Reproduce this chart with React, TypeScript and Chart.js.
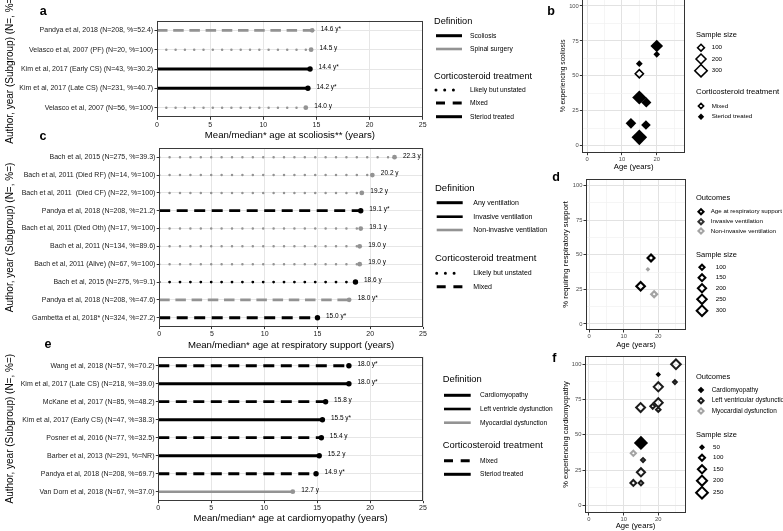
import React, { useEffect, useRef } from "react";
import { Chart, registerables } from "chart.js";

Chart.register(...registerables);

const FONT = "'Liberation Sans', Arial, Helvetica, sans-serif";

// ================= DATA =================
// (a) Mean/median age at scoliosis
const scolLabels = [
  "Pandya et al, 2018 (N=208, %=52.4)",
  "Velasco et al, 2007 (PF) (N=20, %=100)",
  "Kim et al, 2017 (Early CS) (N=43, %=30.2)",
  "Kim et al, 2017 (Late CS) (N=231, %=40.7)",
  "Velasco et al, 2007 (N=56, %=100)",
];
const scolAge = [14.6, 14.5, 14.4, 14.2, 14.0];
const scolMedian = [true, false, true, true, false];
const scolDefinition = ["Spinal surgery", "Spinal surgery", "Scoliosis", "Scoliosis", "Spinal surgery"];
const scolTreatment = ["Mixed", "Likely but unstated", "Steriod treated", "Steriod treated", "Likely but unstated"];

// (b) % experiencing scoliosis vs age
const scolPtAge = [15, 20, 20, 15, 15, 17, 12.6, 16.9, 15];
const scolPtPct = [58.7, 71.4, 65.4, 51.5, 34.5, 31.0, 16.0, 14.8, 6.0];
const scolPtN = [71, 258, 67, 140, 330, 166, 180, 147, 400];
const scolPtTreatment = [
  "Steriod treated", "Steriod treated", "Steriod treated", "Mixed", "Steriod treated",
  "Steriod treated", "Steriod treated", "Steriod treated", "Steriod treated",
];
const scolSizeLegend = [100, 200, 300];

// (c) Mean/median age at respiratory support
const respLabels = [
  "Bach et al, 2015 (N=275, %=39.3)",
  "Bach et al, 2011 (Died RF) (N=14, %=100)",
  "Bach et al, 2011  (Died CF) (N=22, %=100)",
  "Pandya et al, 2018 (N=208, %=21.2)",
  "Bach et al, 2011 (Died Oth) (N=17, %=100)",
  "Bach et al, 2011 (N=134, %=89.6)",
  "Bach et al, 2011 (Alive) (N=67, %=100)",
  "Bach et al, 2015 (N=275, %=9.1)",
  "Pandya et al, 2018 (N=208, %=47.6)",
  "Gambetta et al, 2018* (N=324, %=27.2)",
];
const respAge = [22.3, 20.2, 19.2, 19.1, 19.1, 19.0, 19.0, 18.6, 18.0, 15.0];
const respMedian = [false, false, false, true, false, false, false, false, true, true];
const respDefinition = [
  "Non-invasive ventilation", "Non-invasive ventilation", "Non-invasive ventilation", "Invasive ventilation",
  "Non-invasive ventilation", "Non-invasive ventilation", "Non-invasive ventilation", "Invasive ventilation",
  "Non-invasive ventilation", "Any ventilation",
];
const respTreatment = [
  "Likely but unstated", "Likely but unstated", "Likely but unstated", "Mixed", "Likely but unstated",
  "Likely but unstated", "Likely but unstated", "Likely but unstated", "Mixed", "Mixed",
];

// (d) % requiring respiratory support vs age
const respPtAge = [17.9, 17.0, 14.9, 18.8];
const respPtPct = [47.7, 39.5, 27.2, 21.5];
const respPtN = [150, 25, 208, 119];
const respPtOutcome = ["Age at respiratory support", "Non-invasive ventilation", "Age at respiratory support", "Non-invasive ventilation"];
const respOutcomes = ["Age at respiratory support", "Invasive ventilation", "Non-invasive ventilation"];
const respSizeLegend = [100, 150, 200, 250, 300];

// (e) Mean/median age at cardiomyopathy
const cardLabels = [
  "Wang et al, 2018 (N=57, %=70.2)",
  "Kim et al, 2017 (Late CS) (N=218, %=39.0)",
  "McKane et al, 2017 (N=85, %=48.2)",
  "Kim et al, 2017 (Early CS) (N=47, %=38.3)",
  "Posner et al, 2016 (N=77, %=32.5)",
  "Barber et al, 2013 (N=291, %=NR)",
  "Pandya et al, 2018 (N=208, %=69.7)",
  "Van Dorn et al, 2018 (N=67, %=37.0)",
];
const cardAge = [18.0, 18.0, 15.8, 15.5, 15.4, 15.2, 14.9, 12.7];
const cardMedian = [true, true, false, true, false, false, true, false];
const cardDefinition = [
  "Cardiomyopathy", "Cardiomyopathy", "Left ventricle dysfunction", "Cardiomyopathy",
  "Left ventricle dysfunction", "Cardiomyopathy", "Cardiomyopathy", "Myocardial dysfunction",
];
const cardTreatment = ["Mixed", "Steriod treated", "Mixed", "Steriod treated", "Mixed", "Steriod treated", "Mixed", "Steriod treated"];

// (f) % experiencing cardiomyopathy vs age
const cardPtAge = [25.1, 20, 24.8, 20, 14.9, 18.4, 20, 20, 15, 12.8, 15.6, 15, 12.8, 15];
const cardPtPct = [100, 92.8, 87.4, 84, 69.3, 70.2, 72.8, 67.8, 44.2, 36.9, 32.1, 23.4, 15.8, 15.8];
const cardPtN = [185, 72, 59, 174, 166, 76, 166, 71, 306, 83, 61, 148, 97, 71];
const cardPtOutcome = [
  "Left ventricular dysfunction", "Cardiomyopathy", "Left ventricular dysfunction", "Left ventricular dysfunction",
  "Left ventricular dysfunction", "Left ventricular dysfunction", "Left ventricular dysfunction", "Left ventricular dysfunction",
  "Cardiomyopathy", "Myocardial dysfunction", "Left ventricular dysfunction", "Left ventricular dysfunction",
  "Left ventricular dysfunction", "Left ventricular dysfunction",
];
const cardOutcomes = ["Cardiomyopathy", "Left ventricular dysfunction", "Myocardial dysfunction"];
const cardSizeLegend = [50, 100, 150, 200, 250];

const X_TICKS_LOLLI = [0, 5, 10, 15, 20, 25];
const X_TICKS_SCAT = [0, 5, 10, 15, 20, 25];
const Y_TICKS_SCAT = [0, 12.5, 25, 37.5, 50, 62.5, 75, 87.5, 100];

// ================= STYLE =================
const GRAY = "#939393";
const DEF_STYLE: Record<string, { color: string; width: number }> = {
  Scoliosis: { color: "#000", width: 3 },
  "Spinal surgery": { color: GRAY, width: 2.6 },
  "Any ventilation": { color: "#000", width: 3 },
  "Invasive ventilation": { color: "#000", width: 2.8 },
  "Non-invasive ventilation": { color: GRAY, width: 2.6 },
  Cardiomyopathy: { color: "#000", width: 3 },
  "Left ventricle dysfunction": { color: "#000", width: 2.8 },
  "Myocardial dysfunction": { color: GRAY, width: 2.6 },
};
const OUTCOME_COLOR: Record<string, string> = {
  "Age at respiratory support": "#000",
  "Invasive ventilation": "#333",
  "Non-invasive ventilation": "#a3a3a3",
  Cardiomyopathy: "#000",
  "Left ventricular dysfunction": "#1c1c1c",
  "Myocardial dysfunction": "#a3a3a3",
};
const sizeB = (n: number) => Math.max(0.8, 0.38 * Math.sqrt(n) - 0.4);
const sizeD = (n: number) => Math.max(0.8, 0.37 * Math.sqrt(n) - 1.1);
const sizeF = (n: number) => Math.max(0.8, 0.49 * Math.sqrt(n) - 1.87);

type Box = { x: number; y: number; w: number; h: number };
type Area = { l: number; t: number; r: number; b: number };

function frame(box: Box, area: Area, xAxisH: number) {
  return {
    padding: {
      left: 0,
      top: area.t - box.y,
      right: box.x + box.w - area.r,
      bottom: Math.max(0, box.y + box.h - area.b - xAxisH),
    },
    yWidth: area.l - box.x,
  };
}

function txt(ctx: any, s: string, x: number, y: number, size: number, bold = false, align = "left", color = "#000") {
  ctx.font = `${bold ? "bold " : ""}${size}px ${FONT}`;
  ctx.fillStyle = color;
  ctx.textAlign = align;
  ctx.textBaseline = "middle";
  ctx.fillText(s, x, y);
}
function seg(ctx: any, x1: number, x2: number, y: number, color: string, width: number, dash: number[], cap = "butt") {
  ctx.save();
  ctx.beginPath();
  ctx.strokeStyle = color;
  ctx.lineWidth = width;
  ctx.lineCap = cap;
  ctx.setLineDash(dash);
  ctx.moveTo(x1, y);
  ctx.lineTo(x2, y);
  ctx.stroke();
  ctx.restore();
}
function diamond(ctx: any, x: number, y: number, r: number, fill: string | null, stroke: string | null, bw: number) {
  ctx.save();
  ctx.beginPath();
  ctx.moveTo(x - r, y);
  ctx.lineTo(x, y - r);
  ctx.lineTo(x + r, y);
  ctx.lineTo(x, y + r);
  ctx.closePath();
  if (fill) {
    ctx.fillStyle = fill;
    ctx.fill();
  }
  if (stroke && bw > 0) {
    ctx.strokeStyle = stroke;
    ctx.lineWidth = bw;
    ctx.stroke();
  }
  ctx.restore();
}
function drawBorder(chart: any, color: string) {
  const a = chart.chartArea;
  const ctx = chart.ctx;
  ctx.save();
  ctx.strokeStyle = color;
  ctx.lineWidth = 1;
  const l = Math.round(a.left) + 0.5;
  const t = Math.round(a.top) + 0.5;
  const r = Math.round(a.right) - 0.5;
  const b = Math.round(a.bottom) - 0.5;
  ctx.strokeRect(l, t, r - l, b - t);
  ctx.restore();
}

const dotted = (p: number) => [0.001, p];
function treatDash(t: string, gray: boolean, dotP: number) {
  if (t === "Likely but unstated") return dotted(dotP);
  if (t === "Mixed") return gray ? [10.5, 5.7] : [11, 6.5];
  return [];
}

// ================= LOLLIPOP =================
interface LolliCfg {
  box: Box;
  area: Area;
  xAxisH: number;
  labels: string[];
  ages: number[];
  median: boolean[];
  defs: string[];
  treats: string[];
  xTitle: string;
  dotP: number;
  letter: [string, number, number];
  legend: (ctx: any) => void;
}

function buildLolli(canvas: HTMLCanvasElement, c: LolliCfg) {
  const f = frame(c.box, c.area, c.xAxisH);
  const datasets = c.labels.map((lab, i) => {
    const st = DEF_STYLE[c.defs[i]];
    const gray = st.color === GRAY;
    const isDot = c.treats[i] === "Likely but unstated";
    return {
      data: [
        { x: 0, y: lab },
        { x: c.ages[i], y: lab },
      ],
      showLine: true,
      borderColor: st.color,
      borderWidth: isDot ? (gray ? 2.5 : 2.8) : st.width,
      borderDash: treatDash(c.treats[i], gray, c.dotP),
      borderCapStyle: isDot ? "round" : "butt",
      pointRadius: [0, gray ? 2.4 : 2.7],
      pointHoverRadius: 0,
      pointBackgroundColor: st.color,
      pointBorderColor: st.color,
      pointBorderWidth: 0,
    };
  });
  const decor = {
    id: "decor",
    afterDatasetsDraw(chart: any) {
      drawBorder(chart, "#3a3a3a");
      const ctx = chart.ctx;
      ctx.save();
      c.ages.forEach((age, i) => {
        const p = chart.getDatasetMeta(i).data[1];
        txt(ctx, `${age.toFixed(1)} y${c.median[i] ? "*" : ""}`, p.x + 8.5, p.y - 1.5, 6.5);
      });
      ctx.restore();
    },
    afterDraw(chart: any) {
      const ctx = chart.ctx;
      ctx.save();
      ctx.translate(-c.box.x, -c.box.y);
      txt(ctx, c.letter[0], c.letter[1], c.letter[2], 12.5, true, "center");
      c.legend(ctx);
      ctx.restore();
    },
  };
  return new Chart(canvas, {
    type: "scatter",
    data: { datasets: datasets as any },
    options: {
      responsive: false,
      animation: false,
      devicePixelRatio: 1,
      events: [],
      layout: { padding: f.padding },
      plugins: { legend: { display: false }, tooltip: { enabled: false } },
      scales: {
        x: {
          type: "linear",
          min: 0,
          max: 25,
          bounds: "data",
          afterBuildTicks: (s: any) => {
            s.ticks = X_TICKS_LOLLI.map((v) => ({ value: v }));
          },
          afterFit: (s: any) => {
            s.height = c.xAxisH;
          },
          grid: { color: "#e6e6e6", lineWidth: 1, tickColor: "#333", tickLength: 2.5 },
          border: { display: false },
          ticks: { font: { size: 7, family: FONT }, color: "#1a1a1a", padding: 0.6, maxRotation: 0, autoSkip: false },
          title: { display: true, text: c.xTitle, font: { size: 9.6, family: FONT }, color: "#000", padding: 0 },
        },
        y: {
          type: "category",
          labels: c.labels,
          offset: true,
          afterFit: (s: any) => {
            s.width = f.yWidth;
          },
          grid: { offset: false, color: "#e6e6e6", lineWidth: 1, tickColor: "#333", tickLength: 2.5 },
          border: { display: false },
          ticks: { font: { size: 7, family: FONT }, color: "#1a1a1a", padding: 1.3, autoSkip: false },
          title: {
            display: true,
            text: "Author, year (Subgroup) (N=, %=)",
            font: { size: 10, family: FONT },
            color: "#000",
            padding: { top: 4, bottom: 0 },
          },
        },
      } as any,
    },
    plugins: [decor as any],
  });
}

// ================= SCATTER =================
interface ScatCfg {
  box: Box;
  area: Area;
  xAxisH: number;
  xr: [number, number];
  yr: [number, number];
  ages: number[];
  pcts: number[];
  radii: number[];
  fills: string[];
  strokes: string[];
  bws: number[];
  yTitle: string;
  yTitleSize: number;
  yTitleX: number;
  letter: [string, number, number];
  legend: (ctx: any) => void;
}

function buildScatter(canvas: HTMLCanvasElement, c: ScatCfg) {
  const f = frame(c.box, c.area, c.xAxisH);
  const lh = c.yTitleSize * 1.2;
  const decor = {
    id: "decor",
    afterDatasetsDraw(chart: any) {
      drawBorder(chart, "#333");
    },
    afterDraw(chart: any) {
      const ctx = chart.ctx;
      ctx.save();
      ctx.translate(-c.box.x, -c.box.y);
      txt(ctx, c.letter[0], c.letter[1], c.letter[2], 12.5, true, "center");
      c.legend(ctx);
      ctx.restore();
    },
  };
  const isMajorX = (v: number) => v % 10 === 0;
  const isMajorY = (v: number) => v % 25 === 0;
  return new Chart(canvas, {
    type: "scatter",
    data: {
      datasets: [
        {
          data: c.ages.map((a, i) => ({ x: a, y: c.pcts[i] })),
          pointStyle: "rectRot",
          pointRadius: c.radii,
          pointHoverRadius: c.radii,
          pointBackgroundColor: c.fills,
          pointBorderColor: c.strokes,
          pointBorderWidth: c.bws,
        } as any,
      ],
    },
    options: {
      responsive: false,
      animation: false,
      devicePixelRatio: 1,
      events: [],
      layout: { padding: f.padding },
      plugins: { legend: { display: false }, tooltip: { enabled: false } },
      scales: {
        x: {
          type: "linear",
          min: c.xr[0],
          max: c.xr[1],
          bounds: "data",
          afterBuildTicks: (s: any) => {
            s.ticks = X_TICKS_SCAT.map((v) => ({ value: v }));
          },
          afterFit: (s: any) => {
            s.height = c.xAxisH;
          },
          grid: {
            color: (ctx: any) => (ctx.tick && isMajorX(ctx.tick.value) ? "#e2e2e2" : "#f0f0f0"),
            lineWidth: (ctx: any) => (ctx.tick && isMajorX(ctx.tick.value) ? 1 : 0.7),
            tickColor: (ctx: any) => (ctx.tick && isMajorX(ctx.tick.value) ? "#333" : "rgba(0,0,0,0)"),
            tickLength: 2.5,
          },
          border: { display: false },
          ticks: {
            font: { size: 5.8, family: FONT },
            color: "#4d4d4d",
            padding: 0.5,
            maxRotation: 0,
            autoSkip: false,
            callback: (v: any) => (isMajorX(Number(v)) ? String(v) : ""),
          },
          title: { display: true, text: "Age (years)", font: { size: 7.7, family: FONT }, color: "#000", padding: 0 },
        },
        y: {
          type: "linear",
          min: c.yr[0],
          max: c.yr[1],
          bounds: "data",
          afterBuildTicks: (s: any) => {
            s.ticks = Y_TICKS_SCAT.map((v) => ({ value: v }));
          },
          afterFit: (s: any) => {
            s.width = f.yWidth;
          },
          grid: {
            color: (ctx: any) => (ctx.tick && isMajorY(ctx.tick.value) ? "#e2e2e2" : "#f0f0f0"),
            lineWidth: (ctx: any) => (ctx.tick && isMajorY(ctx.tick.value) ? 1 : 0.7),
            tickColor: (ctx: any) => (ctx.tick && isMajorY(ctx.tick.value) ? "#333" : "rgba(0,0,0,0)"),
            tickLength: 2.5,
          },
          border: { display: false },
          ticks: {
            font: { size: 5.8, family: FONT },
            color: "#4d4d4d",
            padding: 1,
            autoSkip: false,
            callback: (v: any) => (isMajorY(Number(v)) ? String(v) : ""),
          },
          title: {
            display: true,
            text: c.yTitle,
            font: { size: c.yTitleSize, family: FONT },
            color: "#000",
            padding: { top: c.yTitleX - c.box.x - lh / 2, bottom: 0 },
          },
        },
      } as any,
    },
    plugins: [decor as any],
  });
}

// ================= LEGENDS =================
function lolliLegend(
  ctx: any,
  x0: number,
  lx1: number,
  lx2: number,
  tx: number,
  titleSize: number,
  itemSize: number,
  groups: { title: string; ty: number; items: { y: number; label: string; color: string; width: number; dash: number[]; cap?: string }[] }[]
) {
  groups.forEach((g) => {
    txt(ctx, g.title, x0, g.ty, titleSize);
    g.items.forEach((it) => {
      seg(ctx, lx1, lx2, it.y, it.color, it.width, it.dash, it.cap || "butt");
      txt(ctx, it.label, tx, it.y, itemSize);
    });
  });
}

const legendA = (ctx: any) =>
  lolliLegend(ctx, 434, 436, 462, 470, 9.2, 6.7, [
    {
      title: "Definition",
      ty: 21.7,
      items: [
        { y: 35.7, label: "Scoliosis", color: "#000", width: 3, dash: [] },
        { y: 49, label: "Spinal surgery", color: GRAY, width: 2.6, dash: [] },
      ],
    },
    {
      title: "Corticosteroid treatment",
      ty: 76,
      items: [
        { y: 90, label: "Likely but unstated", color: "#000", width: 3, dash: dotted(8.7), cap: "round" },
        { y: 103, label: "Mixed", color: "#000", width: 3, dash: [9, 7.7] },
        { y: 116.7, label: "Steriod treated", color: "#000", width: 3, dash: [] },
      ],
    },
  ]);

const legendC = (ctx: any) =>
  lolliLegend(ctx, 435, 436.7, 462.7, 473.3, 9.5, 7, [
    {
      title: "Definition",
      ty: 188.3,
      items: [
        { y: 202.7, label: "Any ventilation", color: "#000", width: 3, dash: [] },
        { y: 216.7, label: "Invasive ventilation", color: "#000", width: 2.6, dash: [] },
        { y: 230, label: "Non-invasive ventilation", color: GRAY, width: 2.6, dash: [] },
      ],
    },
    {
      title: "Corticosteroid treatment",
      ty: 258.3,
      items: [
        { y: 273.3, label: "Likely but unstated", color: "#000", width: 3, dash: dotted(8.7), cap: "round" },
        { y: 286.7, label: "Mixed", color: "#000", width: 3, dash: [9, 7.7] },
      ],
    },
  ]);

const legendE = (ctx: any) =>
  lolliLegend(ctx, 442.7, 444, 470.7, 480, 9.4, 6.6, [
    {
      title: "Definition",
      ty: 379.3,
      items: [
        { y: 395.3, label: "Cardiomyopathy", color: "#000", width: 3, dash: [] },
        { y: 409, label: "Left ventricle dysfunction", color: "#000", width: 2.6, dash: [] },
        { y: 422.7, label: "Myocardial dysfunction", color: GRAY, width: 2.6, dash: [] },
      ],
    },
    {
      title: "Corticosteroid treatment",
      ty: 445,
      items: [
        { y: 460.7, label: "Mixed", color: "#000", width: 3, dash: [9, 7.7] },
        { y: 474.3, label: "Steriod treated", color: "#000", width: 3, dash: [] },
      ],
    },
  ]);

const legendB = (ctx: any) => {
  txt(ctx, "Sample size", 696, 35, 7.5);
  const ys = [47.7, 59, 70.7];
  scolSizeLegend.forEach((n, i) => {
    diamond(ctx, 701, ys[i], sizeB(n), null, "#000", 1.6);
    txt(ctx, String(n), 711.7, ys[i], 6.2);
  });
  txt(ctx, "Corticosteroid treatment", 696, 92.3, 7.8);
  diamond(ctx, 701, 106, 2.6, null, "#000", 1.6);
  txt(ctx, "Mixed", 711.7, 106, 6.2);
  diamond(ctx, 701, 116.7, 3.2, "#000", null, 0);
  txt(ctx, "Steriod treated", 711.7, 116.7, 6.2);
};

const legendD = (ctx: any) => {
  txt(ctx, "Outcomes", 696, 198.3, 7.5);
  const oy = [211.7, 221.7, 231];
  respOutcomes.forEach((o, i) => {
    diamond(ctx, 701, oy[i], 2.6, null, OUTCOME_COLOR[o], 2);
    txt(ctx, o, 710.7, oy[i], 6.2);
  });
  txt(ctx, "Sample size", 696, 255, 7.5);
  const sy = [267.3, 277.7, 288.3, 299.3, 310.7];
  respSizeLegend.forEach((n, i) => {
    diamond(ctx, 702, sy[i], sizeD(n), null, "#000", 2);
    txt(ctx, String(n), 715.7, sy[i], 6.2);
  });
};

const legendF = (ctx: any) => {
  txt(ctx, "Outcomes", 696, 376.7, 7.5);
  const oy = [390, 400.7, 411];
  cardOutcomes.forEach((o, i) => {
    if (o === "Cardiomyopathy") diamond(ctx, 701, oy[i], 3.3, OUTCOME_COLOR[o], null, 0);
    else diamond(ctx, 701, oy[i], 2.6, null, OUTCOME_COLOR[o], 2);
    txt(ctx, o, 711.7, oy[i], 6.4);
  });
  txt(ctx, "Sample size", 696, 435, 7.5);
  const sy = [447.3, 457.7, 469.3, 480.7, 492.7];
  cardSizeLegend.forEach((n, i) => {
    diamond(ctx, 702, sy[i], sizeF(n), null, "#000", 2);
    txt(ctx, String(n), 713, sy[i], 6.2);
  });
};

// ================= PANELS =================
const buildA = (cv: HTMLCanvasElement) =>
  buildLolli(cv, {
    box: { x: 0, y: 0, w: 560, h: 150 },
    area: { l: 157, t: 20.7, r: 422.7, b: 117.3 },
    xAxisH: 23.5,
    labels: scolLabels,
    ages: scolAge,
    median: scolMedian,
    defs: scolDefinition,
    treats: scolTreatment,
    xTitle: "Mean/median* age at scoliosis** (years)",
    dotP: 9.3,
    letter: ["a", 43.3, 11.7],
    legend: legendA,
  });

const buildC = (cv: HTMLCanvasElement) =>
  buildLolli(cv, {
    box: { x: 0, y: 125, w: 560, h: 227 },
    area: { l: 159.2, t: 148.3, r: 423, b: 326.6 },
    xAxisH: 24.2,
    labels: respLabels,
    ages: respAge,
    median: respMedian,
    defs: respDefinition,
    treats: respTreatment,
    xTitle: "Mean/median* age at respiratory support (years)",
    dotP: 10.4,
    letter: ["c", 43, 137],
    legend: legendC,
  });

const buildE = (cv: HTMLCanvasElement) =>
  buildLolli(cv, {
    box: { x: 0, y: 335, w: 560, h: 196 },
    area: { l: 158.3, t: 356.7, r: 423, b: 500.7 },
    xAxisH: 23.4,
    labels: cardLabels,
    ages: cardAge,
    median: cardMedian,
    defs: cardDefinition,
    treats: cardTreatment,
    xTitle: "Mean/median* age at cardiomyopathy (years)",
    dotP: 10,
    letter: ["e", 48, 345],
    legend: legendE,
  });

const buildB = (cv: HTMLCanvasElement) =>
  buildScatter(cv, {
    box: { x: 545, y: -10, w: 238, h: 190 },
    area: { l: 582.3, t: -1, r: 685, b: 152.7 },
    xAxisH: 18.6,
    xr: [-1.35, 28.1],
    yr: [-5, 105],
    ages: scolPtAge,
    pcts: scolPtPct,
    radii: scolPtN.map((n, i) => (scolPtTreatment[i] === "Mixed" ? sizeB(n) : sizeB(n) + 0.6)),
    fills: scolPtTreatment.map((t) => (t === "Mixed" ? "rgba(0,0,0,0)" : "#000")),
    strokes: scolPtTreatment.map(() => "#000"),
    bws: scolPtTreatment.map((t) => (t === "Mixed" ? 1.6 : 0)),
    yTitle: "% experiencing scoliosis",
    yTitleSize: 6.7,
    yTitleX: 563.3,
    letter: ["b", 551, 11.7],
    legend: legendB,
  });

const buildD = (cv: HTMLCanvasElement) =>
  buildScatter(cv, {
    box: { x: 545, y: 170, w: 238, h: 185 },
    area: { l: 586, t: 179, r: 686, b: 330 },
    xAxisH: 19.6,
    xr: [-0.87, 28],
    yr: [-4.4, 104.8],
    ages: respPtAge,
    pcts: respPtPct,
    radii: respPtN.map((n) => sizeD(n)),
    fills: respPtOutcome.map(() => "rgba(0,0,0,0)"),
    strokes: respPtOutcome.map((o) => OUTCOME_COLOR[o]),
    bws: respPtOutcome.map(() => 2.2),
    yTitle: "% requiring respiratory support",
    yTitleSize: 7.8,
    yTitleX: 565.7,
    letter: ["d", 556, 177.3],
    legend: legendD,
  });

const buildF = (cv: HTMLCanvasElement) =>
  buildScatter(cv, {
    box: { x: 545, y: 345, w: 238, h: 186 },
    area: { l: 585, t: 356, r: 686, b: 513 },
    xAxisH: 18,
    xr: [-1.15, 28],
    yr: [-5.5, 105.9],
    ages: cardPtAge,
    pcts: cardPtPct,
    radii: cardPtN.map((n, i) => (cardPtOutcome[i] === "Cardiomyopathy" ? sizeF(n) + 0.4 : sizeF(n))),
    fills: cardPtOutcome.map((o) => (o === "Cardiomyopathy" ? "#000" : "rgba(0,0,0,0)")),
    strokes: cardPtOutcome.map((o) => OUTCOME_COLOR[o]),
    bws: cardPtOutcome.map((o) => (o === "Cardiomyopathy" ? 0 : 2)),
    yTitle: "% experiencing cardiomyopathy",
    yTitleSize: 7.5,
    yTitleX: 565.7,
    letter: ["f", 554.3, 358.3],
    legend: legendF,
  });

function ChartCanvas({ box, build }: { box: Box; build: (c: HTMLCanvasElement) => Chart }) {
  const ref = useRef<HTMLCanvasElement>(null);
  useEffect(() => {
    const chart = build(ref.current as HTMLCanvasElement);
    return () => chart.destroy();
  }, []);
  return (
    <canvas
      ref={ref}
      width={box.w}
      height={box.h}
      style={{ position: "absolute", left: box.x, top: box.y, width: box.w, height: box.h }}
    />
  );
}

export default function App() {
  return (
    <div style={{ position: "absolute", left: 0, top: 0, width: 783, height: 531, overflow: "hidden", background: "#fff" }}>
      <ChartCanvas box={{ x: 0, y: 0, w: 560, h: 150 }} build={buildA} />
      <ChartCanvas box={{ x: 0, y: 125, w: 560, h: 227 }} build={buildC} />
      <ChartCanvas box={{ x: 0, y: 335, w: 560, h: 196 }} build={buildE} />
      <ChartCanvas box={{ x: 545, y: -10, w: 238, h: 190 }} build={buildB} />
      <ChartCanvas box={{ x: 545, y: 170, w: 238, h: 185 }} build={buildD} />
      <ChartCanvas box={{ x: 545, y: 345, w: 238, h: 186 }} build={buildF} />
    </div>
  );
}
